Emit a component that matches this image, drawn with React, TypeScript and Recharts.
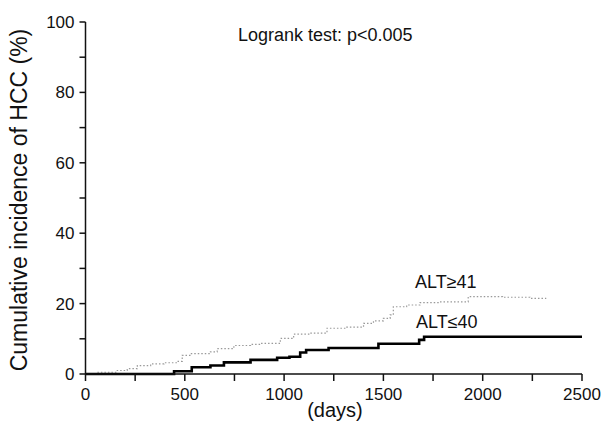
import { Line, LineChart, XAxis, YAxis } from "recharts";

// ALT <= 40 (solid) : days / cumulative incidence (%)
const lowDays = [0, 446, 535, 629, 697, 831, 965, 1027, 1081, 1111, 1224, 1475, 1680, 1705, 2500];
const lowPct = [0, 0.8, 1.9, 2.4, 3.3, 4.0, 4.6, 4.9, 6.1, 6.8, 7.4, 8.6, 9.7, 10.6, 10.6];

// ALT >= 41 (dotted)
const highDays = [
  60, 160, 210, 261, 328, 395, 462, 487, 529, 629, 663, 747, 831, 880, 981, 1048,
  1132, 1216, 1316, 1400, 1450, 1500, 1534, 1550, 1617, 1684, 1785, 1919, 1927,
  2100, 2238, 2320,
];
const highPct = [
  0.5, 1.0, 1.5, 2.4, 2.9, 3.2, 3.6, 5.3, 5.8, 6.3, 7.2, 8.1, 8.4, 8.7, 10.1, 11.3,
  11.6, 13.0, 13.3, 14.4, 15.1, 15.8, 16.8, 19.1, 19.6, 20.3, 20.5, 20.5, 22.0,
  21.8, 21.5, 21.5,
];

const xTicks = [0, 250, 500, 750, 1000, 1250, 1500, 1750, 2000, 2250, 2500];
const yTicks = [0, 10, 20, 30, 40, 50, 60, 70, 80, 90, 100];

const lowData = lowDays.map((d, i) => ({ day: d, pct: lowPct[i] }));
const highData = highDays.map((d, i) => ({ day: d, pct: highPct[i] }));

const font = "'Liberation Sans', Arial, sans-serif";
const tickStyle = { fontSize: 17, fill: "#111", fontFamily: font };

export default function App() {
  return (
    <div style={{ position: "absolute", left: 0, top: 0, width: 616, height: 428, background: "#fff" }}>
      <LineChart
        width={616}
        height={428}
        margin={{ top: 22, right: 34, bottom: 0, left: 0 }}
      >
        <XAxis
          dataKey="day"
          type="number"
          domain={[0, 2500]}
          ticks={xTicks}
          tickFormatter={(v) => (v % 500 === 0 ? String(v) : "")}
          height={54}
          tickSize={7}
          tickMargin={7}
          tick={tickStyle}
          axisLine={{ stroke: "#111", strokeWidth: 1.5 }}
          tickLine={{ stroke: "#111", strokeWidth: 1.5 }}
          allowDataOverflow
        />
        <XAxis
          xAxisId="top"
          orientation="top"
          type="number"
          domain={[0, 2500]}
          height={0}
          tick={false}
          tickLine={false}
          axisLine={{ stroke: "#111", strokeWidth: 1.5 }}
        />
        <YAxis
          type="number"
          domain={[0, 100]}
          ticks={yTicks}
          tickFormatter={(v) => (v % 20 === 0 ? String(v) : "")}
          width={85.5}
          tickSize={6}
          tickMargin={5}
          tick={tickStyle}
          axisLine={{ stroke: "#111", strokeWidth: 1.5 }}
          tickLine={{ stroke: "#111", strokeWidth: 1.5 }}
        />
        <YAxis
          yAxisId="right"
          orientation="right"
          domain={[0, 100]}
          width={0}
          tick={false}
          tickLine={false}
          axisLine={{ stroke: "#111", strokeWidth: 1.5 }}
        />
        <Line
          data={highData}
          dataKey="pct"
          type="stepAfter"
          stroke="#999"
          strokeWidth={1.2}
          strokeDasharray="1.5 2"
          dot={false}
          isAnimationActive={false}
        />
        <Line
          data={lowData}
          dataKey="pct"
          type="stepAfter"
          stroke="#000"
          strokeWidth={2.6}
          dot={false}
          isAnimationActive={false}
        />
      </LineChart>
      <svg
        width={616}
        height={428}
        style={{ position: "absolute", left: 0, top: 0, pointerEvents: "none" }}
      >
        <g fontFamily={font} fill="#111">
          <text x={238} y={41} fontSize={18}>
            Logrank test: p&lt;0.005
          </text>
          <text x={415} y={288} fontSize={18}>
            ALT≥41
          </text>
          <text x={416} y={328} fontSize={18}>
            ALT≤40
          </text>
          <text x={335} y={417} fontSize={20} textAnchor="middle">
            (days)
          </text>
          <text transform="translate(27,200) rotate(-90)" fontSize={23} textAnchor="middle">
            Cumulative incidence of HCC (%)
          </text>
        </g>
      </svg>
    </div>
  );
}
